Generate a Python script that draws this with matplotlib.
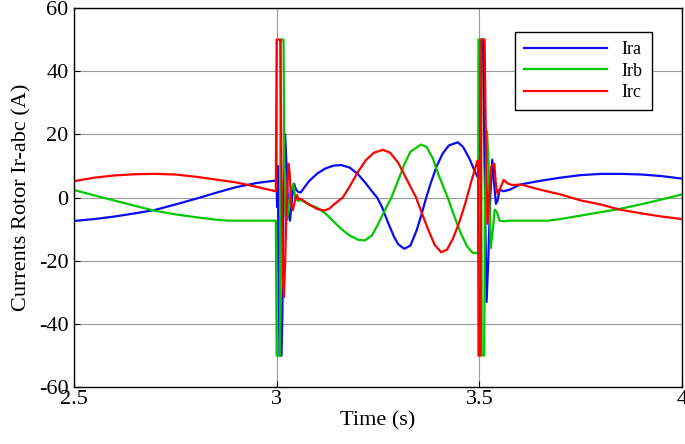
#!/usr/bin/python3
"""Plot the rotor currents Ir-abc during the two transients."""
import matplotlib
matplotlib.use("Agg")
import matplotlib.pyplot as plt

# phase a (Ira)
t_ira = [2.5, 2.55, 2.6, 2.65, 2.7, 2.75, 2.8, 2.85, 2.9, 2.95, 2.998,
         3.000, 3.001, 3.003, 3.005, 3.007, 3.012, 3.014, 3.017, 3.021,
         3.025, 3.029, 3.033, 3.038, 3.043, 3.048, 3.054, 3.060, 3.07,
         3.08, 3.10, 3.12, 3.14, 3.159, 3.18, 3.20, 3.22, 3.235, 3.248,
         3.26, 3.275, 3.29, 3.30, 3.315, 3.33, 3.345, 3.357, 3.369, 3.38,
         3.395, 3.41, 3.425, 3.447, 3.46, 3.475, 3.49, 3.498,
         3.500, 3.501, 3.509, 3.512, 3.515, 3.518, 3.522, 3.527, 3.532,
         3.536, 3.541, 3.545, 3.550, 3.560, 3.575, 3.60, 3.65, 3.70, 3.75,
         3.80, 3.85, 3.90, 3.95, 4.0]
ira = [-7.4, -6.8, -6.0, -5.0, -3.9, -2.2, -0.4, 1.5, 3.3, 4.6, 5.4,
       5.4, -3, 10, -20, -50, -50, -38, 0, 20,
       8, -5, -7.3, 0, 4.4, 2.5, 1.7, 1.7, 3.5,
       5.2, 7.6, 9.2, 10.1, 10.3, 9.5, 7.5, 4.5, 2, 0,
       -3, -8, -12.5, -14.8, -16.2, -15.2, -10.5, -5.5, 0, 4.5,
       10, 14, 16.5, 17.5, 16, 12.5, 8, 6.0,
       20, 50, 50, 20, -10, -33, -20, 0, 12,
       5, -2, -1, 2.5, 2.0, 2.5, 4.1, 5.3, 6.3, 7.1,
       7.5, 7.5, 7.3, 6.8, 6.0]

# phase b (Irb)
t_irb = [2.5, 2.55, 2.6, 2.65, 2.7, 2.75, 2.8, 2.85, 2.88, 2.95, 2.998,
         3.000, 3.008, 3.010, 3.017, 3.019, 3.022, 3.026, 3.030, 3.035,
         3.041, 3.046, 3.052, 3.060, 3.08, 3.10, 3.12, 3.14, 3.16, 3.18,
         3.20, 3.217, 3.235, 3.25, 3.265, 3.283, 3.30, 3.315, 3.33, 3.356,
         3.37, 3.385, 3.40, 3.422, 3.44, 3.455, 3.47, 3.484, 3.497,
         3.498, 3.504, 3.506, 3.512, 3.514, 3.519, 3.523, 3.528, 3.532,
         3.538, 3.543, 3.550, 3.560, 3.575, 3.60, 3.67, 3.70, 3.75, 3.80,
         3.846, 3.90, 3.95, 4.0]
irb = [2.4, 0.7, -0.95, -2.6, -4.2, -5.3, -6.2, -7.0, -7.3, -7.3, -7.3,
       -50, -50, 50, 50, 10, -5, -7, -2, 2,
       4.4, 0, -1.0, -0.8, -2.2, -3.2, -5, -7.5, -10, -12,
       -13.3, -13.6, -12, -8.5, -4.5, 0, 5.5, 10.5, 14.5, 16.8,
       16, 12.5, 7, 0, -6.5, -11.5, -15.5, -17.5, -17.6,
       50, 50, -50, -50, 0, 21, 10, -16, -12,
       -3.8, -4.5, -7.3, -7.5, -7.3, -7.3, -7.3, -6.8, -5.7, -4.6,
       -3.6, -2.1, -0.6, 1.0]

# phase c (Irc)
t_irc = [2.5, 2.55, 2.6, 2.65, 2.7, 2.75, 2.8, 2.85, 2.9, 2.95, 2.998,
         3.000, 3.009, 3.012, 3.015, 3.018, 3.021, 3.025, 3.029, 3.032,
         3.036, 3.040, 3.045, 3.050, 3.054, 3.060, 3.08, 3.10, 3.118,
         3.13, 3.145, 3.163, 3.18, 3.20, 3.22, 3.24, 3.262, 3.28, 3.30,
         3.32, 3.344, 3.36, 3.375, 3.39, 3.406, 3.42, 3.435, 3.45, 3.465,
         3.48, 3.495, 3.497,
         3.498, 3.503, 3.505, 3.513, 3.516, 3.520, 3.525, 3.530, 3.537,
         3.541, 3.545, 3.552, 3.560, 3.570, 3.58, 3.604, 3.65, 3.70,
         3.75, 3.80, 3.846, 3.90, 3.95, 4.0]
irc = [5.2, 6.3, 7.0, 7.4, 7.5, 7.3, 6.6, 5.7, 4.8, 3.4, 2.0,
       50, 50, 10, -25, -31.5, -20, 0, 10.7, 8,
       -2, -4, -1, 0.8, -0.5, -0.4, -2.2, -3.6, -4.1,
       -3.5, -1.8, 0, 3.5, 8, 11.8, 14.2, 15.1, 14.2, 11,
       6, 0, -5.5, -10.5, -15, -17.3, -16.5, -13, -8, -2,
       5, 11.5, 11.7,
       -50, -50, 50, 50, 20, -8.3, 2, 10, 10.7,
       4, 1.2, 3, 5.6, 4.5, 4.0, 4.1, 2.5, 1.0,
       -0.9, -2.2, -3.8, -5.0, -6.0, -6.8]

x_ticks = [2.5, 3, 3.5, 4]
x_tick_labels = ["2.5", "3", "3.5", "4"]
y_ticks = [-60, -40, -20, 0, 20, 40, 60]


def plot_data(output_filepath: str):
    """Draw the three rotor phase currents."""
    plt.rcParams["font.family"] = ["Liberation Serif", "DejaVu Serif"]
    plt.rcParams["axes.unicode_minus"] = False
    fig = plt.figure(figsize=(6.85, 4.44), dpi=100)
    ax1 = fig.add_axes([0.108, 0.128, 0.8876, 0.854])

    ax1.plot(t_ira, ira, color="#0a0af5", lw=1.6, label="Ira")
    ax1.plot(t_irb, irb, color="#00c800", lw=1.6, label="Irb")
    ax1.plot(t_irc, irc, color="#ff0000", lw=1.6, label="Irc")

    ax1.set_xlim(2.5, 4)
    ax1.set_ylim(-60, 60)
    ax1.set_xticks(x_ticks)
    ax1.set_xticklabels(x_tick_labels)
    ax1.set_yticks(y_ticks)
    ax1.tick_params(direction="in", length=4, labelsize=16)
    ax1.tick_params(axis="y", pad=4)
    ax1.tick_params(axis="x", pad=2)
    ax1.grid(True, color="#9a9a9a", lw=0.8)
    ax1.set_axisbelow(True)
    for spine in ax1.spines.values():
        spine.set_linewidth(1.0)

    ax1.set_xlabel("Time (s)", fontsize=16, labelpad=2)
    ax1.set_ylabel("Currents Rotor Ir-abc (A)", fontsize=16, labelpad=5)

    leg = ax1.legend(loc="upper right", bbox_to_anchor=(0.965, 0.96),
                     fontsize=13, handlelength=4.6, frameon=True,
                     fancybox=False, edgecolor="black", framealpha=1,
                     borderpad=0.5, labelspacing=0.25, handletextpad=0.8)
    leg.get_frame().set_linewidth(1.0)

    fig.savefig(output_filepath, dpi=100)


if __name__ == "__main__":
    plot_data("out.png")
